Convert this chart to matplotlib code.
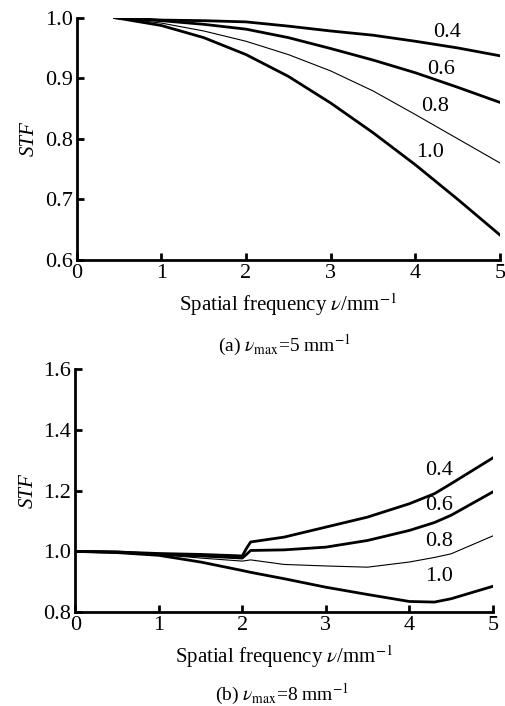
import numpy as np
import matplotlib
matplotlib.use("Agg")
import matplotlib.pyplot as plt

plt.rcParams['font.family'] = 'Liberation Serif'
plt.rcParams['mathtext.fontset'] = 'stix'

# (a) nu_max = 5 mm^-1
xa = [0.45, 1.0, 1.5, 2.0, 2.5, 3.0, 3.5, 4.0, 4.5, 5.0]
a_04 = [1.0, 0.996, 0.995, 0.993, 0.986, 0.978, 0.971, 0.961, 0.950, 0.937]
a_06 = [1.0, 0.995, 0.989, 0.981, 0.967, 0.949, 0.930, 0.909, 0.885, 0.860]
a_08 = [1.0, 0.991, 0.978, 0.961, 0.939, 0.912, 0.879, 0.840, 0.800, 0.760]
a_10 = [1.0, 0.987, 0.967, 0.939, 0.903, 0.859, 0.810, 0.757, 0.700, 0.641]

# (b) nu_max = 8 mm^-1
xb = [0.0, 0.5, 1.0, 1.5, 2.0, 2.05, 2.1, 2.5, 3.0, 3.5, 4.0, 4.3, 4.5, 5.0]
b_04 = [1.0, 0.998, 0.993, 0.990, 0.985, 1.010, 1.031, 1.047, 1.080, 1.113, 1.157, 1.190, 1.223, 1.308]
b_06 = [1.0, 0.998, 0.990, 0.985, 0.978, 0.990, 1.003, 1.005, 1.014, 1.036, 1.069, 1.095, 1.119, 1.196]
b_08 = [1.0, 0.997, 0.990, 0.978, 0.968, 0.970, 0.972, 0.957, 0.952, 0.948, 0.965, 0.980, 0.992, 1.051]
b_10 = [1.0, 0.996, 0.987, 0.965, 0.937, 0.934, 0.931, 0.910, 0.882, 0.858, 0.835, 0.833, 0.844, 0.885]

p_labels = ['0.4', '0.6', '0.8', '1.0']
lab_a = [(4.37, 0.975), (4.31, 0.914), (4.23, 0.854), (4.17, 0.777)]
lab_b = [(4.36, 1.268), (4.36, 1.152), (4.36, 1.033), (4.36, 0.916)]
widths = [2.0, 2.0, 0.8, 2.0]

fig = plt.figure(figsize=(5.05, 7.06), dpi=100)
ax1 = fig.add_axes([0.152, 0.632, 0.838, 0.343])
ax2 = fig.add_axes([0.149, 0.133, 0.827, 0.344])


def style(ax):
    ax.spines['top'].set_visible(False)
    ax.spines['right'].set_visible(False)
    ax.spines['left'].set_linewidth(2)
    ax.spines['bottom'].set_linewidth(2)
    ax.tick_params(direction='in', length=5, width=2, labelsize=16, pad=3)
    ax.set_xlim(0, 5)
    ax.set_xticks([0, 1, 2, 3, 4, 5])
    ax.set_xlabel(r'Spatial frequency $\nu$/mm$^{-1}$', fontsize=15, labelpad=6)
    ax.set_ylabel('STF', fontsize=15, style='italic')


for ys, lw in zip([a_04, a_06, a_08, a_10], widths):
    ax1.plot(xa, ys, color='black', linewidth=lw)
for txt, (x, y) in zip(p_labels, lab_a):
    ax1.text(x, y, txt, fontsize=16, ha='center', va='center')
style(ax1)
ax1.set_ylim(0.6, 1.0)
ax1.set_yticks([0.6, 0.7, 0.8, 0.9, 1.0])

for ys, lw in zip([b_04, b_06, b_08, b_10], widths):
    ax2.plot(xb, ys, color='black', linewidth=lw)
for txt, (x, y) in zip(p_labels, lab_b):
    ax2.text(x, y, txt, fontsize=16, ha='center', va='center')
style(ax2)
ax2.set_ylim(0.8, 1.6)
ax2.set_yticks([0.8, 1.0, 1.2, 1.4, 1.6])

fig.text(0.564, 0.511, r'(a) $\nu_{\rm max}$=5 mm$^{-1}$', fontsize=14, ha='center', va='center')
fig.text(0.558, 0.016, r'(b) $\nu_{\rm max}$=8 mm$^{-1}$', fontsize=14, ha='center', va='center')

fig.savefig('out.png', dpi=100)
